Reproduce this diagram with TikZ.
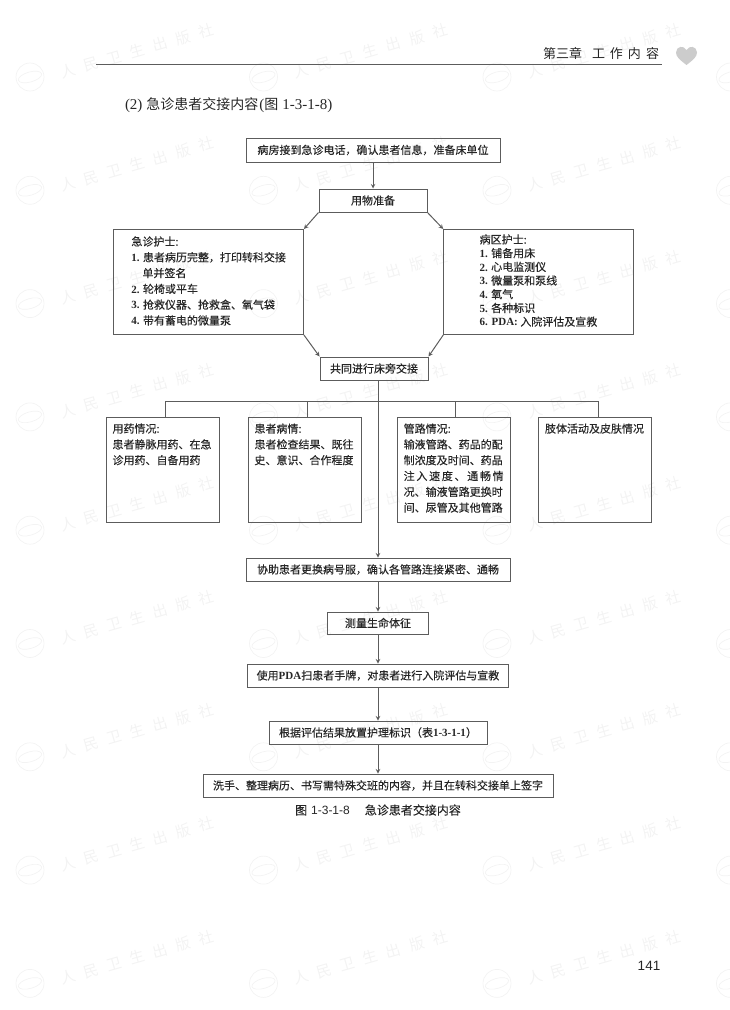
\documentclass[tikz,border=0pt]{standalone}
\usepackage{fontspec}
\usepackage{xcolor}
\usepackage{tikz}
\usetikzlibrary{arrows}
\setmainfont{Noto Sans CJK SC}
\newfontfamily\heavycjk{Noto Sans CJK SC}[FakeBold=0.25]
\newfontfamily\serifnum{Liberation Serif}
\newfontfamily\sansnum{Liberation Sans}
\newcommand{\nm}[1]{{\serifnum\bfseries #1}}
\newcommand{\celda}[1]{\parbox[c][95pt][t]{100pt}{\vspace*{1.5pt}#1}}
\newcommand{\stretchline}[1]{\hbox to 100pt{#1}}
\definecolor{trazo}{HTML}{5C5C5C}
\definecolor{tinta}{HTML}{262626}
\definecolor{marca}{HTML}{F3F3F3}

\begin{document}
\begin{tikzpicture}[x=1pt, y=-1pt, ->, >=stealth, line width=1pt]
    \tikzstyle{every node}=[text=tinta]
    \tikzstyle{every edge}=[draw=trazo]
    \tikzstyle{box}=[draw=trazo, inner sep=2pt, font=\heavycjk\fontsize{11}{15}\selectfont]
    \tikzstyle{listbox}=[box, minimum width=189.5pt, minimum height=105pt]
    \tikzstyle{cellbox}=[box, inner xsep=5.5pt, inner ysep=5pt, minimum width=113pt, minimum height=105pt, font=\heavycjk\fontsize{11}{15.8}\selectfont]
    \tikzstyle{wmark}=[text=marca, rotate=16, font=\fontsize{15}{15}\selectfont]
    \useasboundingbox (0,0) rectangle (730,1010);

    % Marca de agua
    \begin{scope}[-, draw=marca, line width=0.7pt]
    \foreach \row in {0,...,8} {
        \foreach \col in {0,...,2} {
            \node[wmark] (wm\row\col) at (30+233.5*\col+107, 77+113.3*\row-26) {人\hspace{9pt}民\hspace{9pt}卫\hspace{9pt}生\hspace{9pt}出\hspace{9pt}版\hspace{9pt}社};
        }
        \foreach \col in {0,...,3} {
            \draw (30+233.5*\col, 77+113.3*\row) circle (14);
            \draw[rotate around={16:(30+233.5*\col, 77+113.3*\row)}] (30+233.5*\col, 77+113.3*\row) ellipse (12 and 5);
        }
    }
    \end{scope}

    % Cabecera
    \node (chapter) at (601,53) {\fontsize{13}{13}\selectfont 第三章\hspace{10pt}工\hspace{5pt}作\hspace{5pt}内\hspace{5pt}容};
    \coordinate (ruleA) at (96,64);
    \coordinate (ruleB) at (662,64);
    \draw[-, draw=trazo, line width=0.8pt] (ruleA) -- (ruleB);
    \fill[gray!40] (686.5,65) .. controls (680,60) and (676,57) .. (676,52.5) .. controls (676,46) and (684,45) .. (686.5,50) .. controls (689,45) and (697,46) .. (697,52.5) .. controls (697,57) and (693,60) .. (686.5,65) -- cycle;
    \node[anchor=west, inner sep=0pt] (title) at (124.5,105) {\fontsize{14}{14}\selectfont {\serifnum\fontsize{15}{15}\selectfont (2)}\hspace{4pt}急诊患者交接内容\hspace{1pt}{\serifnum\fontsize{15}{15}\selectfont (}图\hspace{4pt}{\serifnum\fontsize{15}{15}\selectfont 1-3-1-8)}};

    % Parte superior
    \node[box, minimum width=254pt, minimum height=24pt] (call)       at (373,150)    {病房接到急诊电话，确认患者信息，准备床单位};
    \node[box, minimum width=108pt, minimum height=23pt] (prep)       [below of=call, node distance=50.5pt]    {用物准备};
    \node[listbox, font=\heavycjk\fontsize{11}{15.8}\selectfont] (nurseE) at (208.7,282)  {\begin{tabular}{@{}l@{}}急诊护士:\\ \nm{1.} 患者病历完整，打印转科交接\\ \hspace{11pt}单并签名\\ \nm{2.} 轮椅或平车\\ \nm{3.} 抢救仪器、抢救盒、氧气袋\\ \nm{4.} 带有蓄电的微量泵\end{tabular}};
    \node[listbox, font=\heavycjk\fontsize{11}{13.7}\selectfont] (nurseW) [right of=nurseE, node distance=329.8pt] {\begin{tabular}{@{}l@{}}病区护士:\\ \nm{1.} 铺备用床\\ \nm{2.} 心电监测仪\\ \nm{3.} 微量泵和泵线\\ \nm{4.} 氧气\\ \nm{5.} 各种标识\\ \nm{6. PDA:} 入院评估及宣教\end{tabular}};
    \node[box, minimum width=108pt, minimum height=23pt] (join)       at (374,368.5)  {共同进行床旁交接};

    % Cuatro casillas
    \coordinate (bus) at (378,401);
    \node[cellbox]                                       (drug)       at (162.5,469.5) {\celda{用药情况:\\ 患者静脉用药、在急\\ 诊用药、自备用药}};
    \node[cellbox]                                       (state)      [right of=drug,  node distance=142pt]   {\celda{患者病情:\\ 患者检查结果、既往\\ 史、意识、合作程度}};
    \node[cellbox]                                       (tube)       [right of=state, node distance=149.2pt] {\celda{管路情况:\\ 输液管路、药品的配\\ 制浓度及时间、药品\\ \stretchline{注\hfil 入\hfil 速\hfil 度\hfil 、\hfil 通\hfil 畅\hfil 情}\\ 况、输液管路更换时\\ 间、尿管及其他管路}};
    \node[cellbox]                                       (skin)       [right of=tube,  node distance=141.3pt] {\celda{肢体活动及皮肤情况}};

    % Parte inferior
    \node[box, minimum width=264pt, minimum height=23pt] (change)     at (378,569.5)  {协助患者更换病号服，确认各管路连接紧密、通畅};
    \node[box, minimum width=101pt, minimum height=22pt] (vital)      [below of=change, node distance=53.5pt] {测量生命体征};
    \node[box, minimum width=261pt, minimum height=23pt] (scan)       [below of=vital,  node distance=52.5pt] {使用\nm{PDA}扫患者手牌，对患者进行入院评估与宣教};
    \node[box, minimum width=218pt, minimum height=23pt] (sign)       [below of=scan,   node distance=57pt]   {根据评估结果放置护理标识（表\nm{1-3-1-1}）};
    \node[box, minimum width=350pt, minimum height=23pt] (wash)       [below of=sign,   node distance=53pt]   {洗手、整理病历、书写需特殊交班的内容，并且在转科交接单上签字};
    \node[inner sep=0pt] (caption)    [below of=wash, node distance=24.5pt] {\heavycjk\fontsize{12}{12}\selectfont 图\hspace{4pt}{\sansnum 1-3-1-8}\hspace{15pt}急诊患者交接内容};
    \node[inner sep=0pt] (page)       at (649,966) {\fontsize{13.5}{14}\selectfont\sansnum 141};

    % Ramas
    \draw[-, draw=trazo] ([xshift=2.5pt]drug.north)  |- (bus);
    \draw[-, draw=trazo] ([xshift=2.5pt]state.north) |- (bus);
    \draw[-, draw=trazo] ([xshift=1.5pt]tube.north)  |- (bus);
    \draw[-, draw=trazo] ([xshift=3pt]skin.north)    |- (bus);

    \path
        (call)              edge                (prep)
        (prep.south west)   edge                (nurseE.north east)
        (prep.south east)   edge                (nurseW.north west)
        (nurseE.south east) edge                (join.north west)
        (nurseW.south west) edge                (join.north east)
        (join.south -| change.north) edge       (change.north)
        (change)            edge                (vital)
        (vital)             edge                (scan)
        (scan)              edge                (sign)
        (sign)              edge                (wash)
    ;
\end{tikzpicture}
\end{document}
